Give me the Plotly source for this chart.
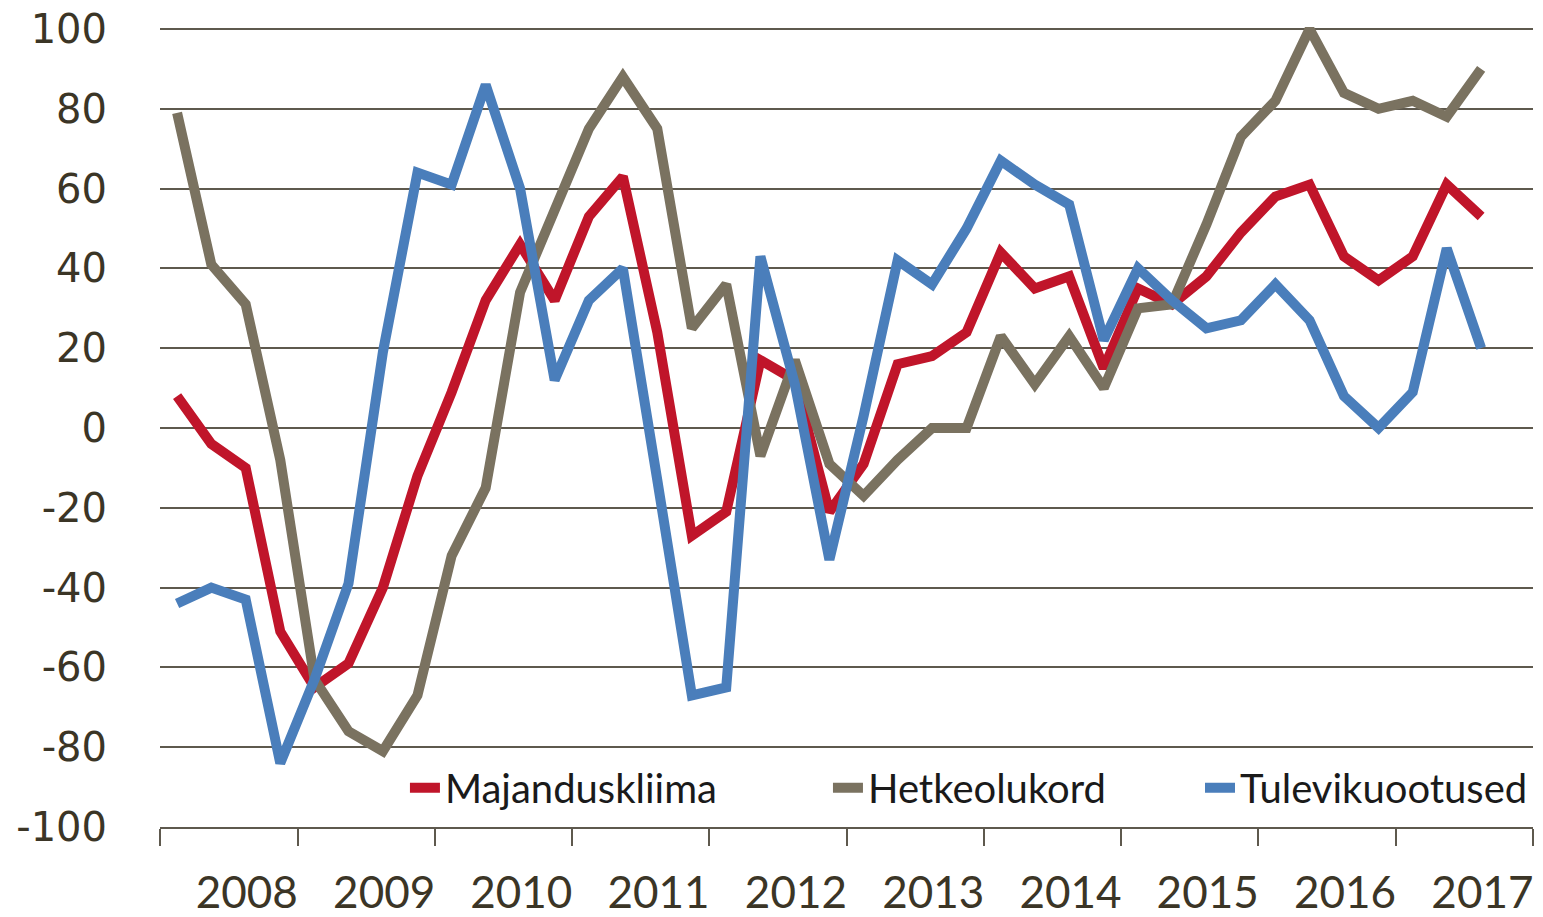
import pandas as pd
import plotly.graph_objects as go

quarters = [f"{y}Q{q}" for y in range(2008, 2018) for q in range(1, 5)][:39]

majanduskliima = [8, -4, -10, -51, -65, -59, -40, -12,
                  9, 32, 46, 32, 53, 63, 24, -27,
                  -21, 17, 12, -21, -9, 16, 18, 24,
                  44, 35, 38, 15, 35, 31, 38, 49,
                  58, 61, 43, 37, 43, 61, 53]
hetkeolukord = [79, 41, 31, -8, -63, -76, -81, -67,
                -32, -15, 34, 54, 75, 88, 75, 25,
                36, -7, 17, -9, -17, -8, 0, 0,
                23, 11, 23, 10, 30, 31, 51, 73,
                82, 100, 84, 80, 82, 78, 90]
tulevikuootused = [-44, -40, -43, -84, -63, -39, 19, 64,
                   61, 86, 60, 12, 32, 40, -13, -67,
                   -65, 43, 11, -33, 3, 42, 36, 50,
                   67, 61, 56, 22, 40, 32, 25, 27,
                   36, 27, 8, 0, 9, 45, 20]

y_tick_values = [-100, -80, -60, -40, -20, 0, 20, 40, 60, 80, 100]
y_tick_labels = ["-100", "-80", "-60", "-40", "-20", "0", "20", "40", "60", "80", "100"]

series_names = ["Majanduskliima", "Hetkeolukord", "Tulevikuootused"]
series_colors = ["#C0152A", "#7A7260", "#4A7EBB"]
legend_ids = ["legend", "legend2", "legend3"]
legend_x = [0.1784, 0.4865, 1.0]
legend_anchor = ["left", "left", "right"]

per = pd.PeriodIndex(quarters, freq="Q")
x = per.start_time + (per.end_time - per.start_time) / 2

fig = go.Figure()
for name, vals, col, lid in zip(series_names,
                                [majanduskliima, hetkeolukord, tulevikuootused],
                                series_colors, legend_ids):
    fig.add_trace(go.Scatter(x=x, y=vals, mode="lines", name=name, legend=lid,
                             line=dict(color=col, width=10)))

grid_col = "#5E594E"
text_col = "#3B3526"

legend_style = dict(orientation="h", y=0.049, yanchor="middle",
                    bgcolor="rgba(0,0,0,0)",
                    font=dict(family="Lato", size=40, color="#1A1A1A"))

layout_legends = {lid: dict(legend_style, x=lx, xanchor=xa)
                  for lid, lx, xa in zip(legend_ids, legend_x, legend_anchor)}

fig.update_layout(
    width=1543, height=917,
    margin=dict(l=160, r=10, t=27, b=90),
    paper_bgcolor="white", plot_bgcolor="white",
    showlegend=True,
    **layout_legends,
    xaxis=dict(type="date", range=["2008-01-01", "2018-01-01"], automargin=False,
               tick0="2008-01-01", dtick="M12", tickformat="%Y",
               ticklabelmode="period", ticklabelshift=18, ticklabelstandoff=9,
               ticks="outside", ticklen=17, tickwidth=2, tickcolor=grid_col,
               showgrid=False, showline=True, linecolor=grid_col, linewidth=2,
               tickfont=dict(family="Lato", size=44, color=text_col)),
    yaxis=dict(range=[-100, 100.5], automargin=False,
               tickmode="array", tickvals=y_tick_values, ticktext=y_tick_labels,
               showgrid=True, gridcolor=grid_col, gridwidth=2,
               zeroline=False, showline=False, ticks="",
               ticklabelstandoff=52,
               tickfont=dict(family="DejaVu Sans", size=40, color=text_col)),
)

fig.write_html("out.html", config={"displayModeBar": False},
               post_script="document.body.style.margin='0px';")
